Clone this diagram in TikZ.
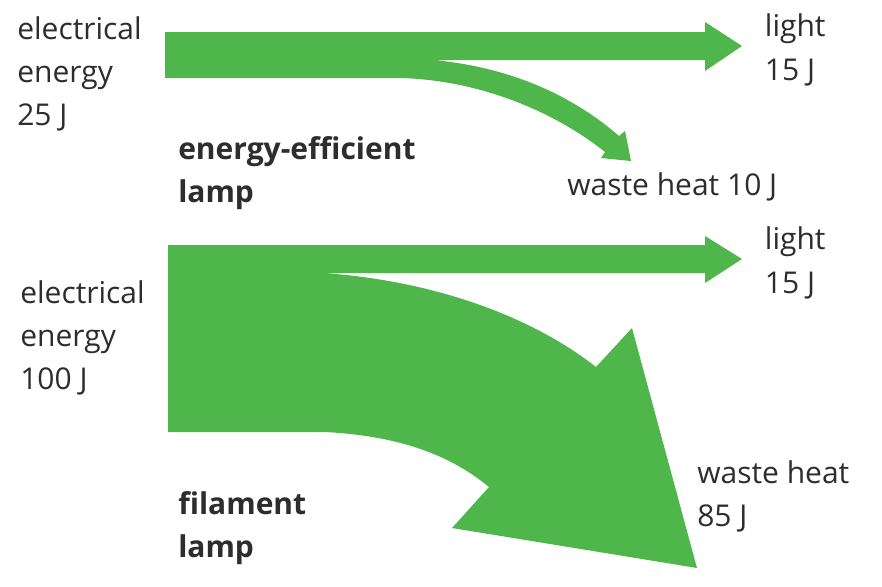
\documentclass[tikz,border=0pt]{standalone}
\usepackage{fontspec}
\setmainfont{Open Sans}
\usepackage{xcolor}
\usepackage{tikz}
\usetikzlibrary{positioning}

\definecolor{flowgreen}{RGB}{78,182,74}
\definecolor{txtgray}{RGB}{45,45,45}

\begin{document}
\begin{tikzpicture}[
  x=0.75pt, y=-0.75pt,
  lbl/.style={anchor=north west, inner sep=0pt, align=left, text=txtgray,
    font=\fontsize{22.5}{32.5}\selectfont},
  lamplbl/.style={lbl, font=\fontsize{22.5}{32.5}\selectfont\bfseries},
  flow/.style={fill=flowgreen, draw=none},
]
\useasboundingbox (0,0) rectangle (882,586);

% Energy-efficient lamp
\coordinate (tipA) at (742,46);
\fill[flow] (165,32) -- (705,32) -- (705,22) -- (tipA) -- (705,71) -- (705,60) -- (433,60)
  .. controls (520,68) and (580,102) .. (619,136) -- (625,131) -- (631,161) -- (601,158)
  -- (605,152) .. controls (555,112) and (480,80) .. (400,78) -- (165,78) -- cycle;

\node[lbl] (elecA) at (17,16) {electrical\\energy\\25 J};
\node[lbl, right=17pt of tipA, anchor=west, yshift=-3pt] (lightA) {light\\15 J};
\node[lbl] (heatA) at (567,172) {waste heat 10 J};
\node[lamplbl] (lampA) at (178,136) {energy-efficient\\lamp};

% Filament lamp
\coordinate (tipB) at (742,259);
\fill[flow] (168,245) -- (705,245) -- (705,236) -- (tipB) -- (705,283) -- (705,273) -- (322,273)
  .. controls (430,280) and (530,315) .. (596,367) -- (632,328) -- (697,568) -- (452,528)
  -- (489,487) .. controls (450,455) and (400,436) .. (325,432) -- (168,432) -- cycle;

\node[lbl] (elecB) at (20,280) {electrical\\energy\\100 J};
\node[lbl, right=17pt of tipB, anchor=west, yshift=-3pt] (lightB) {light\\15 J};
\node[lbl] (heatB) at (697,460) {waste heat\\85 J};
\node[lamplbl] (lampB) at (178,491) {filament\\lamp};
\end{tikzpicture}
\end{document}
